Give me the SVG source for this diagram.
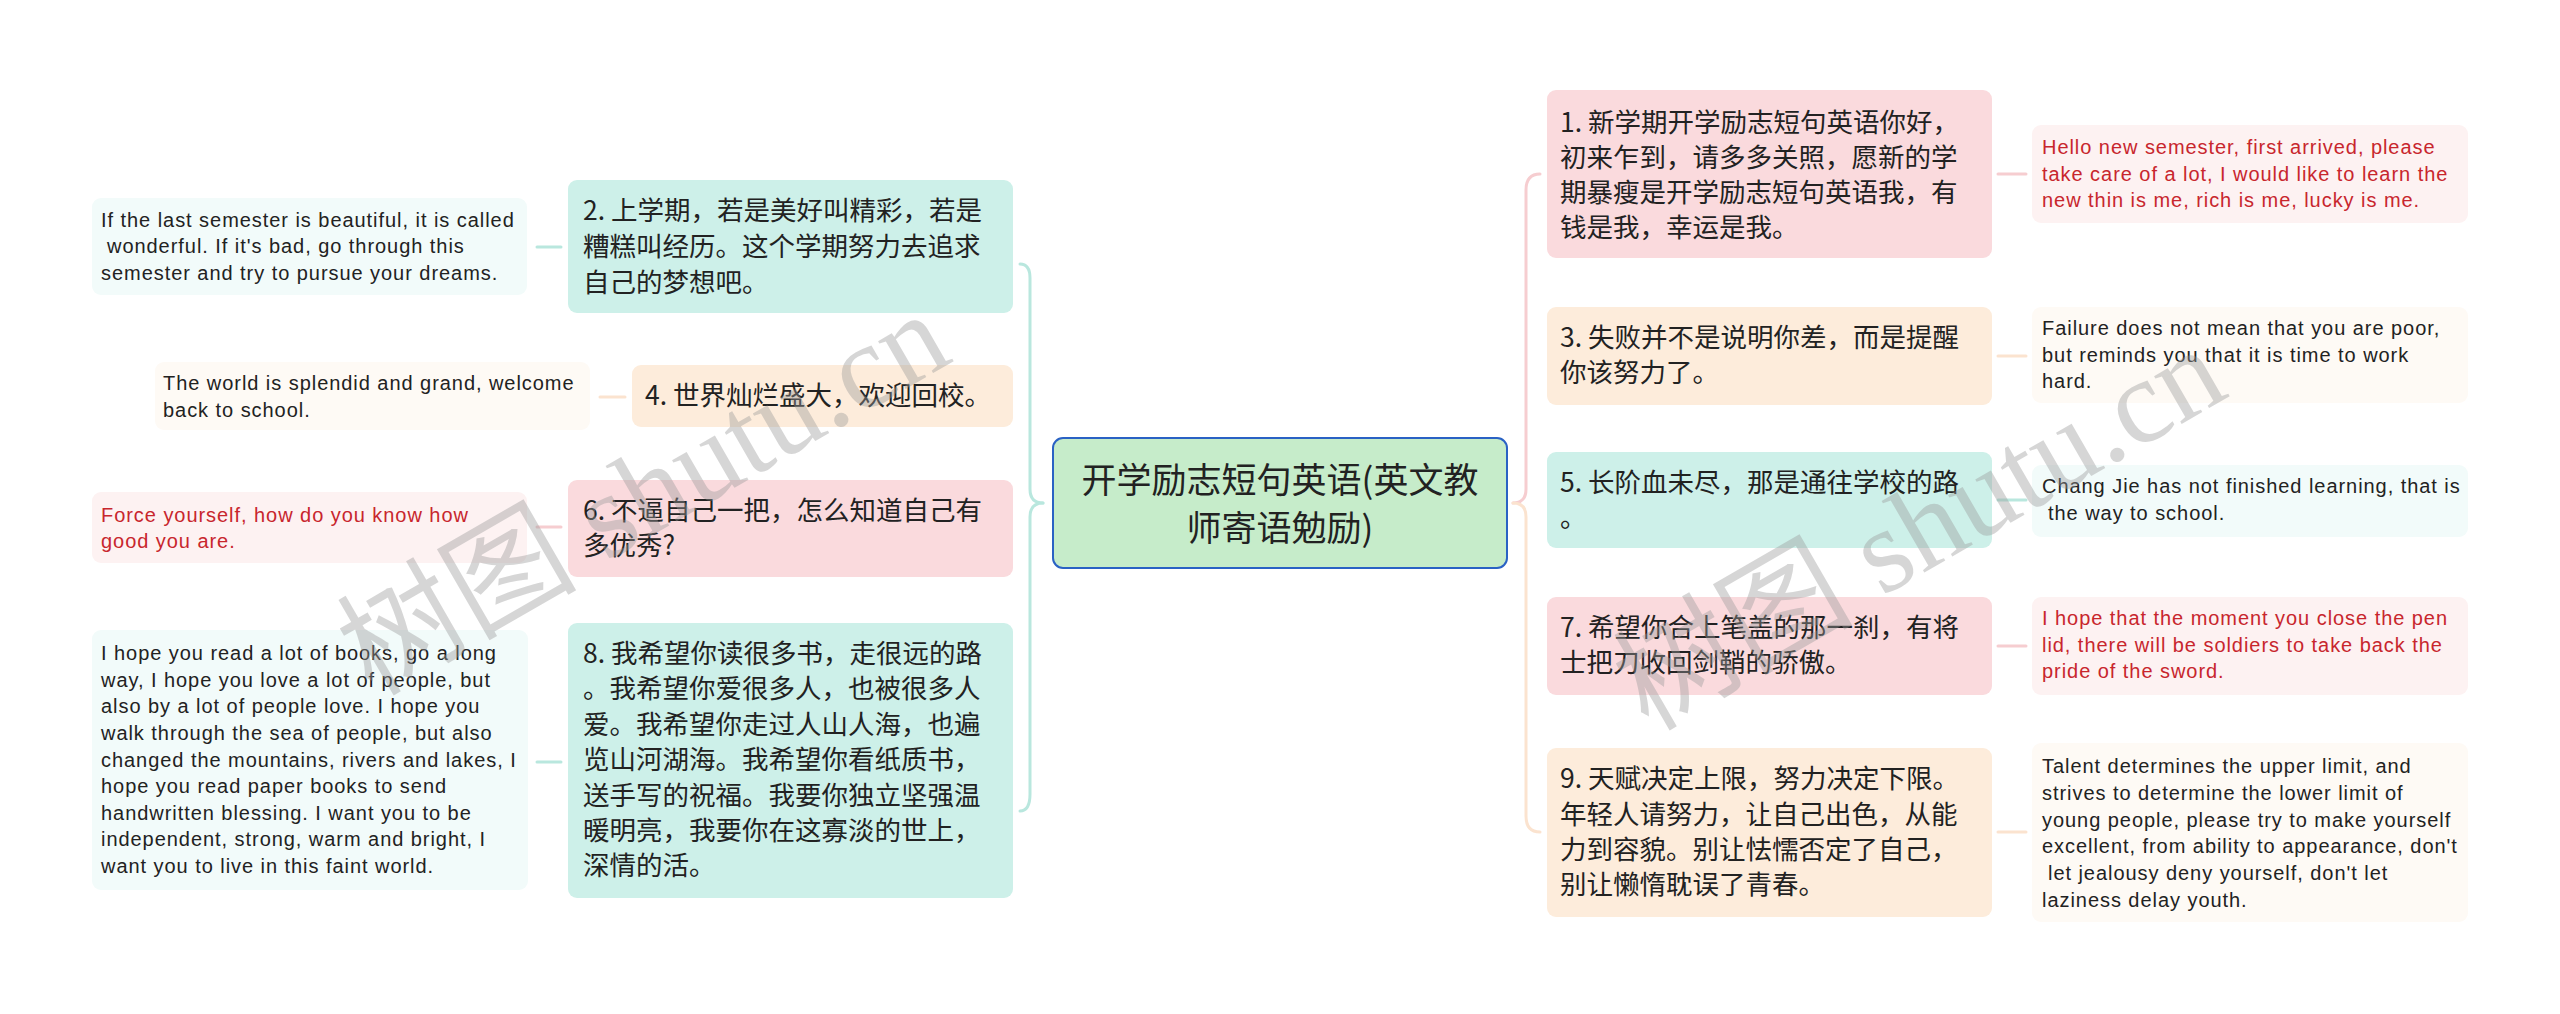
<svg xmlns="http://www.w3.org/2000/svg" width="2560" height="1014" viewBox="0 0 2560 1014">
<style>
.cn{font-family:"Noto Sans CJK SC","Noto Sans",sans-serif;font-size:26.5px;fill:#222}
.ct{font-family:"Noto Sans CJK SC","Noto Sans",sans-serif;font-size:35px;fill:#222;text-anchor:middle}
.en{font-family:"Liberation Sans","Noto Sans",sans-serif;font-size:20px;letter-spacing:0.95px;fill:#222}
.red{fill:#c8262d}
.pk{fill:#fadadd}.pc{fill:#fdecdb}.mt{fill:#cdf0e9}
.pkl{fill:#fdf2f2}.pcl{fill:#fefaf5}.mtl{fill:#f2fbfa}
.l{fill:none;stroke-width:3;stroke-linecap:round}
.lpk{stroke:#f6cdd0}.lpc{stroke:#fbe3cf}.lmt{stroke:#b9e7de}
.wm{font-size:120px;fill:#9a9a9a;opacity:0.4}
.wmc{font-family:"Noto Sans CJK SC",sans-serif}
.wml{font-family:"Liberation Serif","DejaVu Serif",serif}
</style>
<rect width="2560" height="1014" fill="#ffffff"/>
<g id="connectors">
<path class="l lpk" d="M1540,174 Q1526,174 1526,190 L1526,489 Q1526,503 1513,503"/>
<path class="l lpc" d="M1513,503 Q1526,503 1526,517 L1526,816 Q1526,832 1540,832"/>
<path class="l lmt" d="M1020,264 Q1030,264 1030,278 L1030,489 Q1030,503 1043,503"/>
<path class="l lmt" d="M1043,503 Q1030,503 1030,517 L1030,794 Q1030,811 1020,811"/>
<line class="l lpk" x1="1998" y1="174" x2="2026" y2="174"/>
<line class="l lpc" x1="1998" y1="356" x2="2026" y2="356"/>
<line class="l lmt" x1="1998" y1="500" x2="2026" y2="500"/>
<line class="l lpk" x1="1998" y1="646" x2="2026" y2="646"/>
<line class="l lpc" x1="1998" y1="832" x2="2026" y2="832"/>
<line class="l lmt" x1="537" y1="247" x2="561" y2="247"/>
<line class="l lpc" x1="600" y1="397" x2="625" y2="397"/>
<line class="l lpk" x1="537" y1="527" x2="561" y2="527"/>
<line class="l lmt" x1="537" y1="762" x2="561" y2="762"/>
</g>
<g id="center">
<rect x="1053" y="438" width="454" height="130" rx="10" fill="#c6ecca" stroke="#2a62c4" stroke-width="2"/>
<text class="ct" x="1280" y="493">开学励志短句英语(英文教</text>
<text class="ct" x="1280" y="541">师寄语勉励)</text>
</g>
<g id="n1">
<rect class="pk" x="1547" y="90" width="445" height="168" rx="9"/>
<text class="cn" x="1560" y="132">1. 新学期开学励志短句英语你好，</text>
<text class="cn" x="1560" y="167">初来乍到，请多多关照，愿新的学</text>
<text class="cn" x="1560" y="202">期暴瘦是开学励志短句英语我，有</text>
<text class="cn" x="1560" y="237">钱是我，幸运是我。</text>
</g>
<g id="e1">
<rect class="pkl" x="2032" y="125" width="436" height="98" rx="9"/>
<text class="en red" x="2042" y="154">Hello new semester, first arrived, please</text>
<text class="en red" x="2042" y="181">take care of a lot, I would like to learn the</text>
<text class="en red" x="2042" y="207">new thin is me, rich is me, lucky is me.</text>
</g>
<g id="n3">
<rect class="pc" x="1547" y="307" width="445" height="98" rx="9"/>
<text class="cn" x="1560" y="347">3. 失败并不是说明你差，而是提醒</text>
<text class="cn" x="1560" y="382">你该努力了。</text>
</g>
<g id="e3">
<rect class="pcl" x="2032" y="307" width="436" height="96" rx="9"/>
<text class="en" x="2042" y="335">Failure does not mean that you are poor,</text>
<text class="en" x="2042" y="362">but reminds you that it is time to work</text>
<text class="en" x="2042" y="388">hard.</text>
</g>
<g id="n5">
<rect class="mt" x="1547" y="452" width="445" height="96" rx="9"/>
<text class="cn" x="1560" y="492">5. 长阶血未尽，那是通往学校的路</text>
<text class="cn" x="1560" y="527">。</text>
</g>
<g id="e5">
<rect class="mtl" x="2032" y="465" width="436" height="72" rx="9"/>
<text class="en" x="2042" y="493">Chang Jie has not finished learning, that is</text>
<text class="en" x="2048" y="520">the way to school.</text>
</g>
<g id="n7">
<rect class="pk" x="1547" y="597" width="445" height="98" rx="9"/>
<text class="cn" x="1560" y="637">7. 希望你合上笔盖的那一刹，有将</text>
<text class="cn" x="1560" y="672">士把刀收回剑鞘的骄傲。</text>
</g>
<g id="e7">
<rect class="pkl" x="2032" y="597" width="436" height="98" rx="9"/>
<text class="en red" x="2042" y="625">I hope that the moment you close the pen</text>
<text class="en red" x="2042" y="652">lid, there will be soldiers to take back the</text>
<text class="en red" x="2042" y="678">pride of the sword.</text>
</g>
<g id="n9">
<rect class="pc" x="1547" y="748" width="445" height="169" rx="9"/>
<text class="cn" x="1560" y="788">9. 天赋决定上限，努力决定下限。</text>
<text class="cn" x="1560" y="824">年轻人请努力，让自己出色，从能</text>
<text class="cn" x="1560" y="859">力到容貌。别让怯懦否定了自己，</text>
<text class="cn" x="1560" y="894">别让懒惰耽误了青春。</text>
</g>
<g id="e9">
<rect class="pcl" x="2032" y="743" width="436" height="179" rx="9"/>
<text class="en" x="2042" y="773">Talent determines the upper limit, and</text>
<text class="en" x="2042" y="800">strives to determine the lower limit of</text>
<text class="en" x="2042" y="827">young people, please try to make yourself</text>
<text class="en" x="2042" y="853">excellent, from ability to appearance, don't</text>
<text class="en" x="2048" y="880">let jealousy deny yourself, don't let</text>
<text class="en" x="2042" y="907">laziness delay youth.</text>
</g>
<g id="n2">
<rect class="mt" x="568" y="180" width="445" height="133" rx="9"/>
<text class="cn" x="583" y="220">2. 上学期，若是美好叫精彩，若是</text>
<text class="cn" x="583" y="256">糟糕叫经历。这个学期努力去追求</text>
<text class="cn" x="583" y="292">自己的梦想吧。</text>
</g>
<g id="e2">
<rect class="mtl" x="92" y="198" width="435" height="97" rx="9"/>
<text class="en" x="101" y="227">If the last semester is beautiful, it is called</text>
<text class="en" x="107" y="253">wonderful. If it's bad, go through this</text>
<text class="en" x="101" y="280">semester and try to pursue your dreams.</text>
</g>
<g id="n4">
<rect class="pc" x="632" y="365" width="381" height="62" rx="9"/>
<text class="cn" x="645" y="405">4. 世界灿烂盛大，欢迎回校。</text>
</g>
<g id="e4">
<rect class="pcl" x="155" y="362" width="435" height="68" rx="9"/>
<text class="en" x="163" y="390">The world is splendid and grand, welcome</text>
<text class="en" x="163" y="417">back to school.</text>
</g>
<g id="n6">
<rect class="pk" x="568" y="480" width="445" height="97" rx="9"/>
<text class="cn" x="583" y="520">6. 不逼自己一把，怎么知道自己有</text>
<text class="cn" x="583" y="555">多优秀?</text>
</g>
<g id="e6">
<rect class="pkl" x="92" y="492" width="435" height="71" rx="9"/>
<text class="en red" x="101" y="522">Force yourself, how do you know how</text>
<text class="en red" x="101" y="548">good you are.</text>
</g>
<g id="n8">
<rect class="mt" x="568" y="623" width="445" height="275" rx="9"/>
<text class="cn" x="583" y="663">8. 我希望你读很多书，走很远的路</text>
<text class="cn" x="583" y="698">。我希望你爱很多人，也被很多人</text>
<text class="cn" x="583" y="734">爱。我希望你走过人山人海，也遍</text>
<text class="cn" x="583" y="769">览山河湖海。我希望你看纸质书，</text>
<text class="cn" x="583" y="805">送手写的祝福。我要你独立坚强温</text>
<text class="cn" x="583" y="840">暖明亮，我要你在这寡淡的世上，</text>
<text class="cn" x="583" y="875">深情的活。</text>
</g>
<g id="e8">
<rect class="mtl" x="92" y="630" width="436" height="260" rx="9"/>
<text class="en" x="101" y="660">I hope you read a lot of books, go a long</text>
<text class="en" x="101" y="687">way, I hope you love a lot of people, but</text>
<text class="en" x="101" y="713">also by a lot of people love. I hope you</text>
<text class="en" x="101" y="740">walk through the sea of people, but also</text>
<text class="en" x="101" y="767">changed the mountains, rivers and lakes, I</text>
<text class="en" x="101" y="793">hope you read paper books to send</text>
<text class="en" x="101" y="820">handwritten blessing. I want you to be</text>
<text class="en" x="101" y="846">independent, strong, warm and bright, I</text>
<text class="en" x="101" y="873">want you to live in this faint world.</text>
</g>
<g id="watermark">
<text class="wm" transform="translate(372,697) rotate(-30)"><tspan class="wmc">树图</tspan><tspan class="wml"> shutu.cn</tspan></text>
<text class="wm" transform="translate(1648,732) rotate(-30)"><tspan class="wmc">树图</tspan><tspan class="wml"> shutu.cn</tspan></text>
</g>
</svg>
